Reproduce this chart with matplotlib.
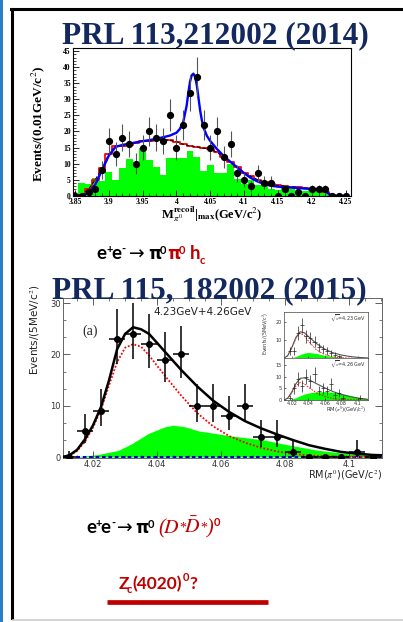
import numpy as np
import matplotlib.pyplot as plt
from matplotlib.ticker import MultipleLocator, FixedLocator
from matplotlib.lines import Line2D

W, H = 403, 622
plt.rcParams['mathtext.fontset'] = 'stix'

# ---------------- top panel: PRL 113, 212002 (2014) ----------------
m_top = np.round(3.85 + 0.01 * np.arange(41), 3)          # bin centres
n_top = [0, 0, 1, 2, 8, 17, 13, 18, 16, 10, 15, 20, 18, 17, 25, 15, 22, 32, 37, 22,
         15, 20, 12, 16, 7, 5, 3, 7, 4, 4, 0, 2, 0, 1, 0, 2, 2, 2, 0, 0, 0]
e_top = [0, 0, 1, 1.4, 2.8, 4.1, 3.6, 4.2, 4, 3.2, 3.9, 4.5, 4.2, 4.1, 5, 3.9, 4.7, 5.7, 6.1, 4.7,
         3.9, 4.5, 3.5, 4, 2.6, 2.2, 1.7, 2.6, 2, 2, 0, 1.4, 0, 1, 0, 1.4, 1.4, 1.4, 0, 0, 0]
red_top = [0, 0.3, 2, 5, 8.5, 13, 15.5, 15.5, 15.8, 16.5, 17, 17, 17.3, 17.5, 17.2, 16.8, 16, 15.5,
           15.2, 14.8, 14.5, 13.5, 12, 10.5, 8.8, 7.2, 6, 5, 4.2, 3.5, 3.2, 3, 2.8, 2.6, 2.4,
           2.2, 2, 1.2, 0.2, 0, 0]
m_green = np.round(3.86 + 0.01 * np.arange(37), 3)
green_top = [4, 3.5, 5.5, 4.5, 7.5, 5, 8.5, 11.5, 10.5, 14.7, 11, 9, 6.6, 11.6, 11.6, 11.6, 14,
             12, 7.7, 9.5, 7.2, 7.2, 10, 5.3, 3.7, 5, 3.2, 3.2, 2.2, 1.9, 2.7, 2.2, 1.6, 1.6,
             1.9, 1.4, 1.1]
blue_x = [3.85, 3.86, 3.87, 3.88, 3.89, 3.90, 3.91, 3.92, 3.93, 3.94, 3.95, 3.96, 3.97, 3.98,
          3.99, 4.00, 4.005, 4.01, 4.015, 4.0175, 4.02, 4.0225, 4.025, 4.0275, 4.03, 4.0325,
          4.035, 4.0375, 4.04, 4.045, 4.05, 4.06, 4.07, 4.08, 4.09, 4.10, 4.11, 4.12, 4.13,
          4.14, 4.15, 4.16, 4.17, 4.18, 4.19, 4.20, 4.21, 4.22, 4.225, 4.23, 4.25]
blue_y = [0, 0, 0.8, 3.5, 8, 12.5, 15.2, 15.8, 16.2, 16.6, 17, 17.3, 17.7, 18.2, 18.7, 19.6,
          20.8, 23, 28, 32, 35.5, 37.5, 38, 37, 34.5, 30.5, 26.5, 23.5, 21.2, 18.6, 17, 14.5,
          12.3, 10.5, 8.8, 7, 5.5, 4.4, 3.6, 3.1, 2.8, 2.6, 2.5, 2.4, 2.2, 2.1, 1.9, 1.5, 0.6,
          0, 0]

# ---------------- bottom panel: PRL 115, 182002 (2015) ----------------
rm = np.round(4.0125 + 0.005 * np.arange(20), 4)
n_bot = [0, 5, 9, 23, 24, 22, 19, 20, 10, 10, 8, 10, 4, 4, 1, 0, 0, 0, 1, 0]
lo_bot = [0, 2.2, 3, 4.8, 4.9, 4.7, 4.4, 4.5, 3.2, 3.2, 2.8, 3.2, 2, 2, 1, 0, 0, 0, 1, 0]
hi_bot = [1.1, 3.4, 4.2, 5.9, 6, 5.8, 5.4, 5.5, 4.3, 4.3, 3.9, 4.3, 3.2, 3.2, 2.3, 0, 0, 0, 2.3, 0]
tot_x = [4.0105, 4.0125, 4.015, 4.0175, 4.020, 4.0225, 4.025, 4.0275, 4.030, 4.0325, 4.035,
         4.0375, 4.0425, 4.0475, 4.0525, 4.0575, 4.0625, 4.0675, 4.0725, 4.0775, 4.0825,
         4.0875, 4.0925, 4.0975, 4.1025, 4.1075, 4.1102]
tot_y = [0.05, 0.3, 1.4, 3.5, 6.2, 9.8, 15, 21, 24, 25.3, 24.9, 24, 20.5, 17, 13.8, 11, 8.8,
         7.0, 5.6, 4.4, 3.3, 2.3, 1.6, 1.0, 0.65, 0.4, 0.35]
sig_x = [4.0105, 4.0125, 4.015, 4.0175, 4.020, 4.0225, 4.025, 4.0275, 4.030, 4.0325, 4.035,
         4.0375, 4.0425, 4.0475, 4.0525, 4.0575, 4.0625, 4.0675, 4.0725, 4.0775, 4.0825,
         4.0875, 4.095, 4.1102]
sig_y = [0, 0.2, 1.2, 3.0, 5.8, 9.3, 14, 18.5, 21.3, 22, 21.5, 19.8, 15.8, 12, 8.6, 6.0, 4.1,
         2.8, 1.8, 1.1, 0.6, 0.3, 0.1, 0]
bkg_x = [4.0105, 4.0144, 4.0217, 4.0279, 4.0321, 4.0373, 4.0425, 4.0451, 4.0487, 4.0529,
         4.0581, 4.0633, 4.0685, 4.0737, 4.0790, 4.0842, 4.0894, 4.0946, 4.0998, 4.1050, 4.1102]
bkg_y = [0, 0, 0.5, 1.3, 2.6, 4.6, 5.9, 6.2, 5.9, 5.1, 4.6, 4.1, 3.7, 3.3, 2.6, 2.0, 1.4, 1.0,
         0.65, 0.45, 0.3]

# inset panels (sqrt(s)=4.23 and 4.26 GeV)
n_423 = [0, 4, 4, 14, 18, 12, 11, 9, 6, 5, 4, 3, 2, 1, 0, 0, 0, 0, 0, 0]
n_426 = [0, 1, 5, 9, 6, 10, 8, 11, 4, 5, 4, 7, 2, 3, 1, 0, 0, 0, 1, 0]
ins_x = [4.0105, 4.015, 4.02, 4.025, 4.03, 4.035, 4.04, 4.05, 4.06, 4.07, 4.08, 4.09, 4.10, 4.112]
tot_423 = [0, 1.5, 6, 11.5, 14.5, 14, 12, 8, 5, 3, 1.8, 1, 0.5, 0.2]
sig_423 = [0, 1.4, 5.5, 11, 13.8, 12.5, 9.5, 4.5, 2, 0.8, 0.3, 0.1, 0, 0]
bkg_423 = [0, 0, 0.3, 1, 2, 2.8, 3.2, 2.6, 1.6, 0.9, 0.5, 0.2, 0.1, 0]
tot_426 = [0, 0.8, 3.5, 7, 9.3, 9.5, 8.8, 7, 5.2, 3.6, 2.4, 1.5, 0.8, 0.3]
sig_426 = [0, 0.7, 3, 6, 7.5, 7, 5.5, 3, 1.5, 0.6, 0.2, 0.1, 0, 0]
bkg_426 = [0, 0.1, 0.4, 1, 1.8, 2.5, 3.0, 3.5, 3.6, 3.3, 2.8, 2, 1.2, 0.6]

NAVY = '#13285f'
DRED = '#c00000'
GREEN = '#00ff00'


def box(l, t, r, b):
    return [l / W, 1 - b / H, (r - l) / W, (b - t) / H]


def put(x, y, s, **kw):
    kw.setdefault('ha', 'left')
    kw.setdefault('va', 'baseline')
    return fig.text(x / W, 1 - y / H, s, **kw)


fig = plt.figure(figsize=(W / 100, H / 100), dpi=100)
fig.patch.set_facecolor('white')

# slide frame lines
fig.add_artist(Line2D([1 / W, 1 / W], [0, 1], color='#2b7cc7', lw=2.2))
fig.add_artist(Line2D([12 / W, 12 / W], [1 - 618 / H, 1 - 8.5 / H], color='black', lw=2.2))
fig.add_artist(Line2D([11 / W, 1], [1 - 8.5 / H, 1 - 8.5 / H], color='black', lw=2.2))
fig.add_artist(Line2D([13 / W, 1], [1 - 619.5 / H, 1 - 619.5 / H], color='#cccccc', lw=1.2))

# ---------- top plot ----------
serif_b = {'family': 'Liberation Serif', 'weight': 'bold'}
ax = fig.add_axes(box(73, 48.3, 351, 195.7))
ax.bar(m_green, green_top, width=0.01, color=GREEN, lw=0, zorder=1)
ax.step(m_top, red_top, where='mid', color='red', lw=1.3, zorder=2)
ax.plot(m_top, red_top, color='black', ls=(0, (3, 2)), lw=0.8, zorder=3)
ax.plot(blue_x, blue_y, color='#0000ff', lw=1.7, zorder=4)
ax.errorbar(m_top, n_top, yerr=e_top, fmt='o', ms=4.2, color='black', ecolor='#555555',
            elinewidth=0.8, capsize=0, zorder=5)
ax.set_xlim(3.847, 4.258)
ax.set_ylim(0, 45.9)
ax.xaxis.set_major_locator(FixedLocator([3.85, 3.9, 3.95, 4.0, 4.05, 4.1, 4.15, 4.2, 4.25]))
ax.xaxis.set_minor_locator(MultipleLocator(0.01))
ax.yaxis.set_major_locator(MultipleLocator(5))
ax.yaxis.set_minor_locator(MultipleLocator(1))
ax.set_xticklabels(['3.85', '3.9', '3.95', '4', '4.05', '4.1', '4.15', '4.2', '4.25'])
ax.tick_params(which='both', direction='in', top=False, right=False, labelsize=5.5, pad=1.5)
ax.tick_params(which='major', length=4, width=0.6)
ax.tick_params(which='minor', length=2, width=0.5)
for lab in ax.get_xticklabels() + ax.get_yticklabels():
    lab.set_fontproperties(serif_b)
    lab.set_fontsize(5.5)
for s in ax.spines.values():
    s.set_linewidth(0.8)
fig.text(38.5 / W, 1 - 124 / H, r'Events/(0.01GeV/c$^{2}$)', rotation=90, ha='center',
         va='center', fontsize=9.5, **serif_b)
fig.text(212 / W, 1 - 214 / H,
         r'M$_{\pi^0}^{\mathbf{recoil}}$|$_{\mathbf{max}}$(GeV/c$^{2}$)',
         ha='center', va='center', fontsize=9, **serif_b)

# ---------- bottom plot ----------
bx = fig.add_axes(box(63, 298, 381.7, 457.8))
bx.fill_between(bkg_x, bkg_y, color=GREEN, lw=0, zorder=1)
bx.axhline(0, color='#0000cc', lw=2.2, ls=(0, (1.2, 0.9)), zorder=2)
bx.plot(sig_x, sig_y, color='red', ls=(0, (1, 1)), lw=1.3, zorder=3)
bx.plot(tot_x, tot_y, color='black', lw=1.8, zorder=4)
bx.errorbar(rm, n_bot, yerr=[lo_bot, hi_bot], xerr=0.0025, fmt='o', ms=4, color='black',
            elinewidth=1.1, capsize=0, zorder=5)
bx.set_xlim(4.0106, 4.1102)
bx.set_ylim(-0.15, 31.0)
bx.xaxis.set_major_locator(FixedLocator([4.02, 4.04, 4.06, 4.08, 4.1]))
bx.xaxis.set_minor_locator(MultipleLocator(0.005))
bx.yaxis.set_major_locator(MultipleLocator(10))
bx.yaxis.set_minor_locator(MultipleLocator(10 / 3))
bx.set_xticklabels(['4.02', '4.04', '4.06', '4.08', '4.1'])
bx.tick_params(which='both', direction='in', top=True, right=True, labelsize=6,
               labelcolor='#333333', color='#444444', pad=1.5)
bx.tick_params(which='major', length=5, width=0.6)
bx.tick_params(which='minor', length=2.5, width=0.5)
for s in bx.spines.values():
    s.set_linewidth(0.7)
    s.set_color('#666666')
fig.text(35 / W, 1 - 330 / H, r'Events/(5MeV/c$^{2}$)', rotation=90, ha='center',
         va='center', fontsize=7.5, color='#222222')
fig.text(382 / W, 1 - 478.5 / H, r'RM($\pi^{0}$)(GeV/c$^{2}$)', ha='right', va='baseline',
         fontsize=7, color='#222222')
put(153, 315, '4.23GeV+4.26GeV', fontsize=7.5, color='#222222')
put(82, 335, '(a)', fontsize=10, family='Liberation Serif', color='#222222')


# inset
def inset(t, b, n, tot, sig, bkg, ymax, yt, label, xlabels):
    a = fig.add_axes(box(283.5, t, 368, b))
    a.fill_between(ins_x, bkg, color=GREEN, lw=0)
    a.plot(ins_x, sig, color='red', ls=(0, (2, 1.5)), lw=0.6)
    a.plot(ins_x, tot, color='#555555', lw=0.8)
    a.errorbar(rm, n, yerr=np.sqrt(n), xerr=0.0025, fmt='none', ecolor='#222222',
               elinewidth=0.5, capsize=0)
    a.set_xlim(4.0099, 4.1123)
    a.set_ylim(0, ymax)
    a.xaxis.set_major_locator(FixedLocator([4.02, 4.04, 4.06, 4.08, 4.1]))
    a.yaxis.set_major_locator(FixedLocator(yt))
    a.tick_params(which='both', direction='in', labelsize=3.5, labelcolor='#333333',
                  length=1.5, width=0.4, pad=1)
    if xlabels:
        a.set_xticklabels(['4.02', '4.04', '4.06', '4.08', '4.1'])
    else:
        a.set_xticklabels([])
    for s in a.spines.values():
        s.set_linewidth(0.5)
        s.set_color('#444444')
    a.text(0.98, 0.97, label, transform=a.transAxes, ha='right', va='top', fontsize=3.5,
           color='#333333')


inset(311.7, 358.3, n_423, tot_423, sig_423, bkg_423, 25.5, [10, 20], r'$\sqrt{s}$=4.23 GeV', False)
inset(358.3, 400, n_426, tot_426, sig_426, bkg_426, 17.9, [0, 5, 10, 15], r'$\sqrt{s}$=4.26 GeV', True)
fig.text(267 / W, 1 - 333 / H, r'Events/(5MeV/c$^{2}$)', rotation=90, ha='center', va='center',
         fontsize=3.5, color='#333333')
fig.text(367 / W, 1 - 412 / H, r'RM($\pi^{0}$)(GeV/c$^{2}$)', ha='right', va='baseline',
         fontsize=3.8, color='#333333')

# ---------- titles and reaction text ----------
put(62, 43.3, 'PRL 113,212002 (2014)', fontsize=22.5, color=NAVY, zorder=10, **serif_b)
put(52, 298.3, 'PRL 115, 182002 (2015)', fontsize=22.5, color=NAVY, zorder=10, **serif_b)

sans = {'family': ['Lato', 'DejaVu Sans'], 'weight': 'bold'}
greek = {'family': 'DejaVu Sans', 'weight': 'bold'}
big, sup = 13.5, 8
gsize = 12
arrow = {'family': 'DejaVu Sans', 'fontsize': 13.5}

# e+e- -> pi0 pi0 hc
put(96.7, 259.3, 'e', fontsize=big, color='black', **sans)
put(106.3, 252.7, '+', fontsize=sup, color='black', **sans)
put(111.7, 259.3, 'e', fontsize=big, color='black', **sans)
put(121.8, 253, '-', fontsize=sup, color='black', **sans)
put(129.3, 259.3, '\u2192', color='black', **arrow)
put(147.8, 259.3, '\u03c0', fontsize=gsize, color='black', **greek)
put(160, 254, '0', fontsize=sup, color='black', **sans)
put(166.8, 259.3, '\u03c0', fontsize=gsize, color=DRED, **greek)
put(179, 254, '0', fontsize=sup, color=DRED, **sans)
put(190, 259.3, 'h', fontsize=big, color=DRED, **sans)
put(200, 264.5, 'c', fontsize=sup, color=DRED, **sans)

# e+e- -> pi0 (D* Dbar*)0
put(86, 533.3, 'e', fontsize=big, color='black', **sans)
put(95.8, 526.7, '+', fontsize=sup, color='black', **sans)
put(100.7, 533.3, 'e', fontsize=big, color='black', **sans)
put(111.5, 527, '-', fontsize=sup, color='black', **sans)
put(117.3, 533.3, '\u2192', color='black', **arrow)
put(135.5, 533.3, '\u03c0', fontsize=gsize, color='black', **greek)
put(147.8, 528, '0', fontsize=sup, color='black', **sans)
put(158.3, 533.3, '(', fontsize=14.5, color=DRED, family='Liberation Serif', style='italic')
put(163.3, 533.3, r'$D$', fontsize=14.5, color=DRED)
put(179.3, 531.5, '*', fontsize=10, color=DRED, family='Liberation Serif')
put(184.5, 533.3, r'$\bar{D}$', fontsize=14.5, color=DRED)
put(200.7, 531.5, '*', fontsize=10, color=DRED, family='Liberation Serif')
put(206.5, 533.3, ')', fontsize=14.5, color=DRED, family='Liberation Serif', style='italic')
put(213.3, 525.7, '0', fontsize=sup, color=DRED, **sans)

# Zc(4020)0?
put(118.3, 589, 'Z', fontsize=12.5, color=DRED, **sans)
put(126.8, 593.3, 'c', fontsize=sup, color=DRED, **sans)
put(132.7, 589, '(4020)', fontsize=12.5, color=DRED, **sans)
put(182.3, 581, '0', fontsize=sup, color=DRED, **sans)
put(189, 589, '?', fontsize=12.5, color=DRED, **sans)
fig.add_artist(Line2D([106.7 / W, 268.3 / W], [1 - 601.7 / H, 1 - 601.7 / H], color=DRED,
                      lw=3.4, solid_capstyle='butt'))

fig.savefig('out.png', dpi=100)
